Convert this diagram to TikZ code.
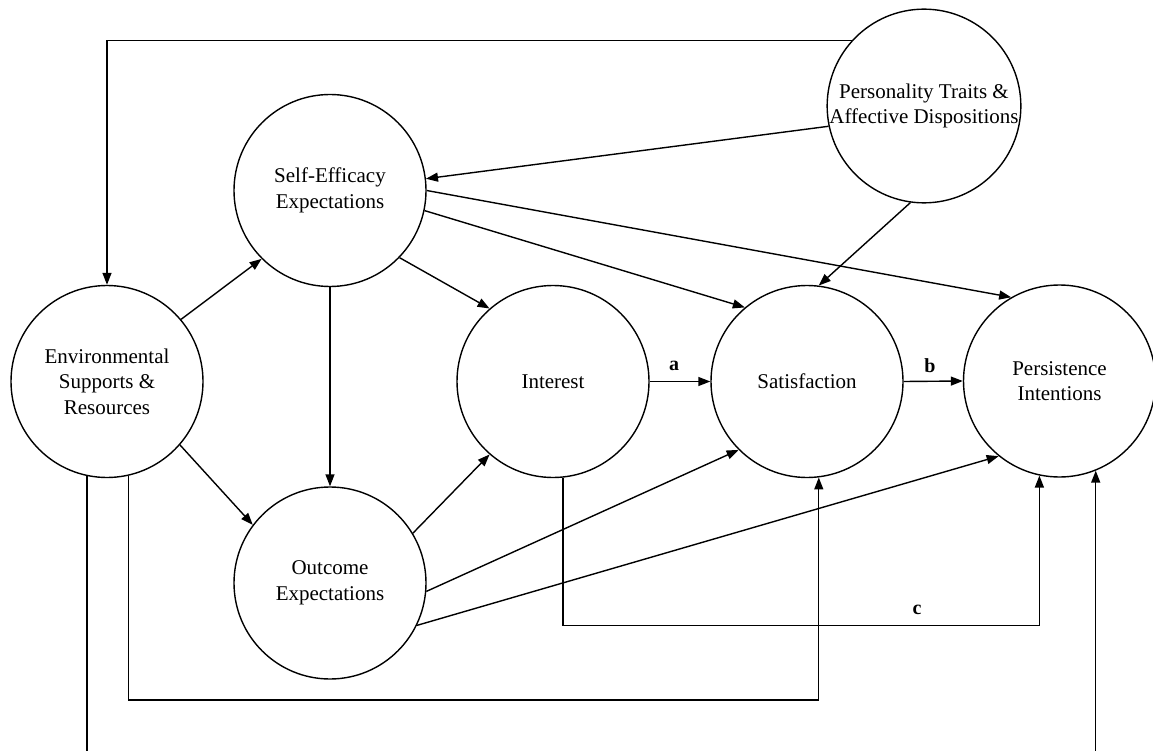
\documentclass[tikz,border=0pt]{standalone}
\usepackage{fontspec}
\setmainfont{Liberation Serif}
\usetikzlibrary{arrows.meta}
\tikzset{
  circ/.style={circle, draw, line width=1.4pt, minimum size=192pt, inner sep=0pt, align=center, font=\fontsize{21}{25.5}\selectfont},
  arr/.style={line width=1.4pt, -{Triangle[length=12pt,width=9pt]}},
  lbl/.style={font=\fontsize{20}{24}\selectfont\bfseries, inner sep=0pt}
}
\begin{document}
\begin{tikzpicture}[x=1pt, y=-1pt]
\useasboundingbox (0,0) rectangle (1153,751);
\fill[white] (0,0) rectangle (1153,751);
\begin{scope}
\clip (0,0) rectangle (1153,751);
\node[circ] (env) at (107,381.5) {Environmental\\Supports \&\\Resources};
\node[circ] (se) at (330,190.5) {Self-Efficacy\\Expectations};
\node[circ] (out) at (330,583) {Outcome\\Expectations};
\node[circ] (int) at (553,381.5) {Interest};
\node[circ] (sat) at (807,381.5) {Satisfaction};
\node[circ] (pers) at (1059.5,381) {Persistence\\Intentions};
\node[circ] (pt) at (924,106) {Personality Traits \&\\Affective Dispositions};

\coordinate (cY) at (0,625.7);
\coordinate (sY) at (0,700);
\coordinate (bY) at (0,770);

\draw[arr] (pt.138.2) -| (env.north);
\draw[arr] (pt.192) -- (se.7);
\draw[arr] (pt.262.5) -- (sat.83);
\draw[arr] (se.-12.4) -- (sat.130.5);
\draw[arr] (se.0) -- (pers.120);
\draw[arr] (se.-44.4) -- (int.131);
\draw[arr] (se.south) -- (out.north);
\draw[arr] (env.40.4) -- (se.225.4);
\draw[arr] (env.-41) -- (out.143.8);
\draw[arr] (out.31.6) -- (int.229.5);
\draw[arr] (out.-5.8) -- (sat.225.4);
\draw[arr] (out.-26) -- (pers.231);
\draw[arr] (int.east) -- (sat.west);
\draw[arr] (sat.east) -- (pers.west);
\draw[arr] (int.-84) -- (int.-84 |- cY) -- (pers.258.9 |- cY) -- (pers.258.9);
\draw[arr] (env.-77) -- (env.-77 |- sY) -- (sat.-83.2 |- sY) -- (sat.-83.2);
\draw[arr] (env.-102) -- (env.-102 |- bY) -- (pers.-68.6 |- bY) -- (pers.-68.6);

\node[lbl] (la) at (674,366) {a};
\node[lbl] (lb) at (930,366) {b};
\node[lbl] (lc) at (917,610) {c};
\end{scope}
\end{tikzpicture}
\end{document}
